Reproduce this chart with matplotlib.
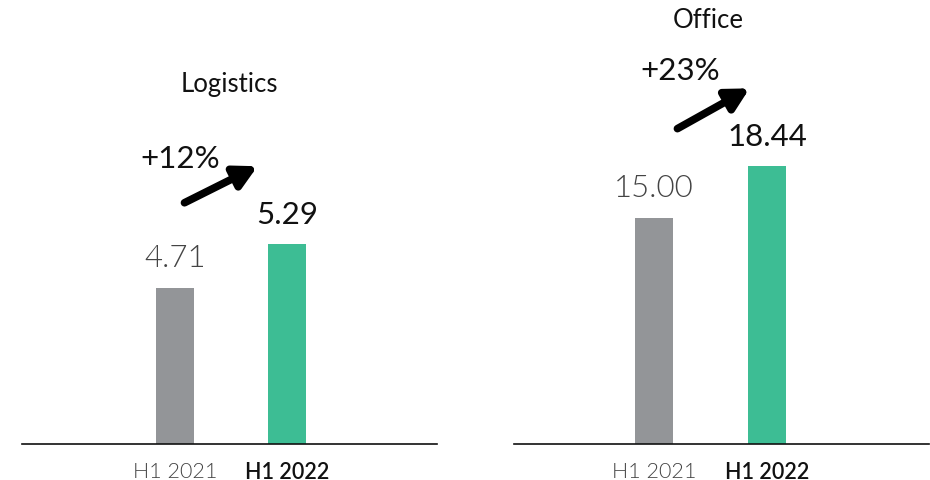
import matplotlib.pyplot as plt
from matplotlib.patches import FancyArrowPatch

plt.rcParams['font.family'] = ['Lato', 'DejaVu Sans']

# data
periods = ['H1 2021', 'H1 2022']
logistics = [4.71, 5.29]
office = [15.00, 18.44]
changes = ['+12%', '+23%']
titles = ['Logistics', 'Office']

GRAY = '#939598'
GREEN = '#3dbd94'
DARK = '#111111'
LIGHT_TXT = '#444444'

W, H = 930, 481
fig = plt.figure(figsize=(W / 100, H / 100), dpi=100)

base = 445  # baseline in pixels from the top


def px_axes(x0, x1):
    return fig.add_axes([x0 / W, (H - base) / H, (x1 - x0) / W, base / H])


panels = [
    # axes x-range (px), ylim, xlim, title pos, change text pos, arrow (tail, tip)
    dict(ax=px_axes(22, 437), vals=logistics, ylim=(2.65, 2.65 + base / 75.9),
         xlim=(-1.366, 2.34), title=(229, 85), chg=(180, 159),
         arrow=((182, 205), (260, 166))),
    dict(ax=px_axes(514, 929), vals=office, ylim=(0, base / 15.1),
         xlim=(-1.24, 2.43), title=(708, 20), chg=(680, 71),
         arrow=((675, 131), (752, 88))),
]

for i, p in enumerate(panels):
    ax = p['ax']
    x = range(len(periods))
    ax.bar(x, p['vals'], width=38 / 112, color=[GRAY, GREEN], zorder=2)
    ax.set_xlim(*p['xlim'])
    ax.set_ylim(*p['ylim'])
    for s in ['top', 'left', 'right']:
        ax.spines[s].set_visible(False)
    ax.spines['bottom'].set_linewidth(1.2)
    ax.spines['bottom'].set_color(DARK)
    ax.set_yticks([])
    ax.set_xticks(list(x))
    ax.set_xticklabels(periods, fontsize=15.5)
    ax.tick_params(axis='x', length=0, pad=12)
    lbls = ax.get_xticklabels()
    lbls[0].set_color(LIGHT_TXT)
    lbls[0].set_fontweight(300)
    lbls[1].set_color(DARK)
    lbls[1].set_fontweight(600)

    # value labels
    for xi, v in zip(x, p['vals']):
        ax.annotate('{:.2f}'.format(v), (xi, v), xytext=(0, 21.5),
                    textcoords='offset points', ha='center', va='center',
                    fontsize=22.5, color=LIGHT_TXT if xi == 0 else DARK,
                    fontweight=300 if xi == 0 else 'normal')

    # title and change
    fig.text(p['title'][0] / W, 1 - p['title'][1] / H, titles[i],
             ha='center', va='center', fontsize=18.5, color=DARK)
    fig.text(p['chg'][0] / W, 1 - p['chg'][1] / H, changes[i],
             ha='center', va='center', fontsize=22.5, color=DARK)
    (tx, ty), (hx, hy) = p['arrow']
    fig.add_artist(FancyArrowPatch(
        (tx / W, 1 - ty / H), (hx / W, 1 - hy / H),
        transform=fig.transFigure, arrowstyle='-|>,head_length=6,head_width=3.2',
        mutation_scale=2.2, linewidth=5.5, color='black'))

fig.savefig('out.png', dpi=100)
